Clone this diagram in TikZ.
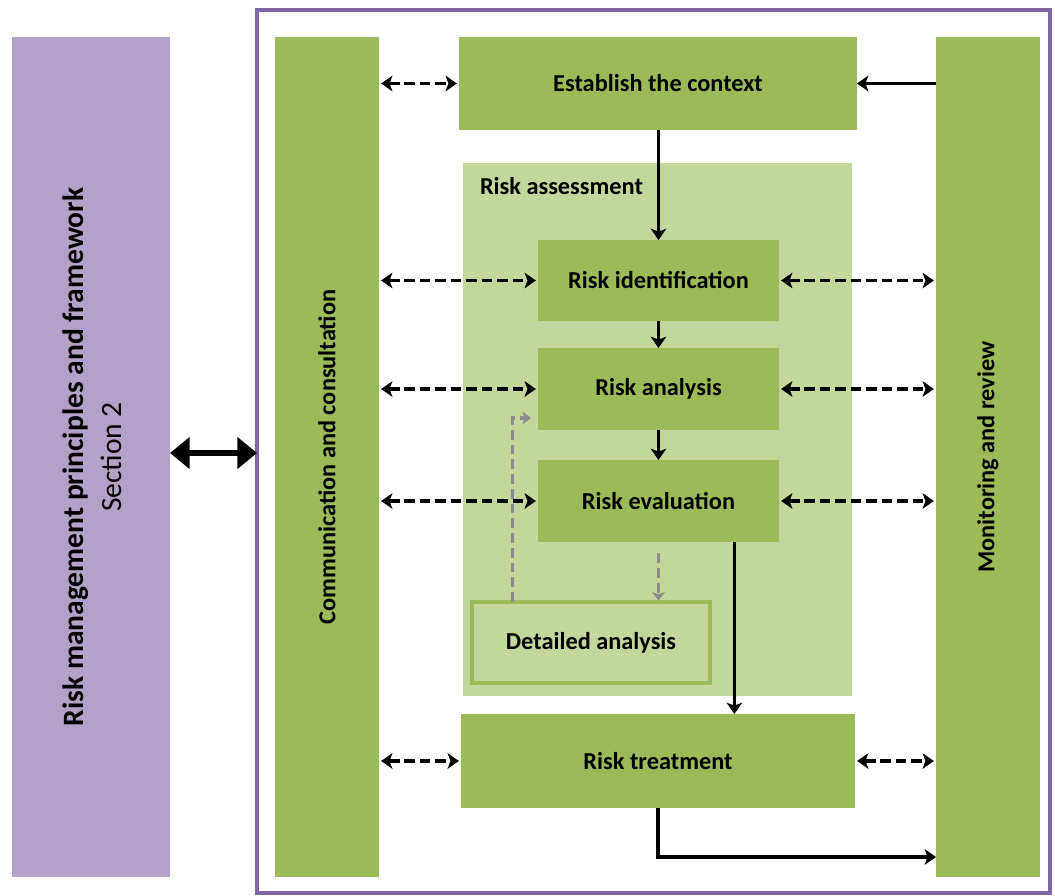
\documentclass[tikz,border=0pt]{standalone}
\usepackage{fontspec}
\setmainfont{Carlito}
\usetikzlibrary{positioning,arrows.meta,calc,fit}
\definecolor{stepgreen}{HTML}{9BBB59}
\definecolor{assessgreen}{HTML}{C3D69B}
\definecolor{fwpurple}{HTML}{B3A2C7}
\definecolor{framepurple}{HTML}{8064A2}
\definecolor{fbgray}{HTML}{8C8C8C}
\tikzset{
  area/.style    ={inner sep=0pt, outer sep=0pt},
  steptext/.style={area, font=\fontsize{17.3}{20}\selectfont\bfseries},
  stepbox/.style ={area, fill=stepgreen},
  sidebar/.style ={area, fill=stepgreen},
  barlabel/.style={steptext, rotate=90},
  assessbox/.style={area, fill=assessgreen},
  detailbox/.style={area, fill=assessgreen, draw=stepgreen, line width=2.2pt},
  % solid flow between the process steps
  flow/.style    ={draw=black, line width=2.6pt, -{Stealth[length=8pt,width=11pt,inset=2pt]}},
  % two-way dashed exchange with the side bars
  talk/.style    ={draw=black, line width=2.6pt, dash pattern=on 7.5pt off 3.5pt,
                 {Stealth[length=8pt,width=11pt,inset=2pt]}-{Stealth[length=8pt,width=11pt,inset=2pt]},
                 shorten >=1.5pt, shorten <=1.5pt},
  fbk/.style     ={draw=fbgray, line width=2.4pt, dash pattern=on 7pt off 3.5pt,
                 -{Stealth[length=6pt,width=9pt,inset=1.5pt]}},
  frame/.style   ={area, draw=framepurple, line width=2.5pt},
  link/.style    ={draw=black, line width=3.6pt,
                 {Triangle[length=14pt,width=22pt]}-{Triangle[length=14pt,width=22pt]}},
}

\begin{document}
\begin{tikzpicture}[x=0.025cm,y=-0.025cm]
  \useasboundingbox (0,0) rectangle (1055,896);

  % framework on the left
  \node[area, fill=fwpurple, fit={(12,37) (170,877)}] (framework) {};
  \node[area, rotate=90, align=center, font=\fontsize{21}{27}\selectfont] (fwlabel) at (92,457)
       {\textbf{Risk management principles and framework}\\Section 2};

  % process frame and side bars
  \node[frame, fit={(257,10) (1050,893)}] (process) {};
  \node[sidebar, fit={(275,37) (379,877)}] (comm) {};
  \node[barlabel] (commlbl) at (comm) {Communication and consultation};
  \node[sidebar, fit={(936,37) (1040,877)}] (monitor) {};
  \node[barlabel] (monitorlbl) at (monitor) {Monitoring and review};

  % main steps
  \node[stepbox, fit={(459,37) (857,130)},
        label={[steptext]center:Establish the context}] (establish) {};
  \node[assessbox, fit={(463,163) (852,696)}] (assess) {};
  \node[steptext, anchor=west] (assesslbl) at (480,186) {Risk assessment};
  \node[stepbox, fit={(538,240) (779,321)},
        label={[steptext]center:Risk identification}] (riskid) {};
  \node[stepbox, fit={(538,348) (779,430)},
        label={[steptext]center:Risk analysis}] (riskan) {};
  \node[stepbox, fit={(538,460) (779,542)},
        label={[steptext]center:Risk evaluation}] (riskev) {};
  \node[detailbox, fit={(472,602) (710,683)},
        label={[steptext]center:Detailed analysis}] (detail) {};
  \node[stepbox, fit={(461,714) (855,808)},
        label={[steptext]center:Risk treatment}] (treat) {};

  % solid flow
  \draw[flow] (establish.south -| riskid) -- (riskid.north);
  \draw[flow] (riskid) -- (riskan);
  \draw[flow] (riskan) -- (riskev);
  \coordinate (evout) at ($(riskev.south west)!0.815!(riskev.south east)$);
  \draw[flow] (evout) -- (evout |- treat.north);
  \coordinate (loopend) at ($(monitor.south west)+(0,-20)$);
  \draw[flow] (treat.south) |- (loopend);
  \draw[flow] (monitor.west |- establish) -- (establish.east);
  \draw[link] (framework.east |- 0,453) -- (process.west |- 0,453);

  % dashed exchanges
  \foreach \n in {establish,riskid,riskan,riskev,treat}
    \draw[talk] (comm.east |- \n) -- (\n.west);
  \foreach \n in {riskid,riskan,riskev,treat}
    \draw[talk] (\n.east) -- (monitor.west |- \n);

  % grey feedback through detailed analysis
  \coordinate (dtop) at ($(detail.north west)!0.17!(detail.north east)$);
  \coordinate (anback) at ($(riskan.south west)+(0,-12)$);
  \draw[fbk, shorten >=5pt] (dtop) |- (anback);
  \draw[fbk, shorten <=8pt, shorten >=1pt] (riskev.south) -- (detail.north -| riskev.south);
\end{tikzpicture}
\end{document}
